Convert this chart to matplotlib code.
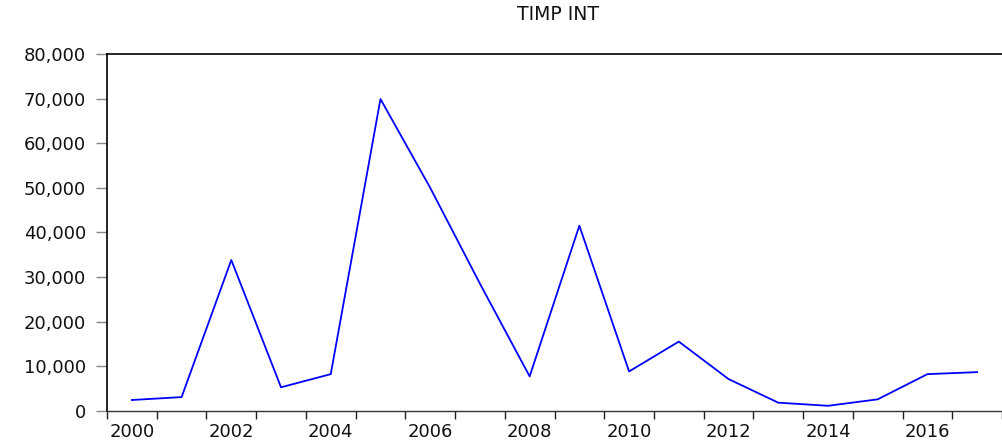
import matplotlib
matplotlib.use("Agg")
import matplotlib.pyplot as plt

# annual values
years = list(range(2000, 2018))
timp_int = [2400, 3050, 33800, 5250, 8200, 69900, 50000, 28500, 7700,
            41500, 8800, 15500, 7100, 1800, 1100, 2550, 8200, 8650]
y_ticks = [0, 10000, 20000, 30000, 40000, 50000, 60000, 70000, 80000]
label_years = list(range(2000, 2018, 2))

plt.rcParams['font.family'] = ['DejaVu Sans']

fig = plt.figure(figsize=(10.02, 4.41), dpi=100)
ax = fig.add_axes([107 / 1002, 1 - 410.7 / 441, 1 - 107 / 1002, (410.7 - 54) / 441])

ax.plot(years, timp_int, color='#0000ff', lw=1.3)

ax.set_ylim(0, 80000)
ax.set_xlim(1999.5, 2017.33)

ax.set_yticks(y_ticks)
ax.set_yticklabels([f"{v:,}" for v in y_ticks])
ax.tick_params(axis='y', direction='out', length=8, width=1.0, color='#888888',
               pad=7, labelsize=13, labelcolor='#111111')

# ticks on year boundaries, labels on even-year centres
ax.set_xticks([y - 0.5 for y in years] + [2017.5])
ax.set_xticklabels([])
ax.set_xticks(label_years, minor=True)
ax.set_xticklabels([str(y) for y in label_years], minor=True)
ax.tick_params(axis='x', which='major', direction='out', length=6, width=1.0,
               color='#222222')
ax.tick_params(axis='x', which='minor', length=0, pad=9, labelsize=13,
               labelcolor='#111111')

for side in ['left', 'top']:
    ax.spines[side].set_linewidth(1.2)
    ax.spines[side].set_color('black')
ax.spines['bottom'].set_linewidth(1.0)
ax.spines['bottom'].set_color('#333333')
ax.spines['right'].set_visible(False)

fig.text(558 / 1002, 1 - 15 / 441, "TIMP INT", ha='center', va='center',
         fontsize=13.5, color='#111111')

fig.savefig("out.png", dpi=100)
